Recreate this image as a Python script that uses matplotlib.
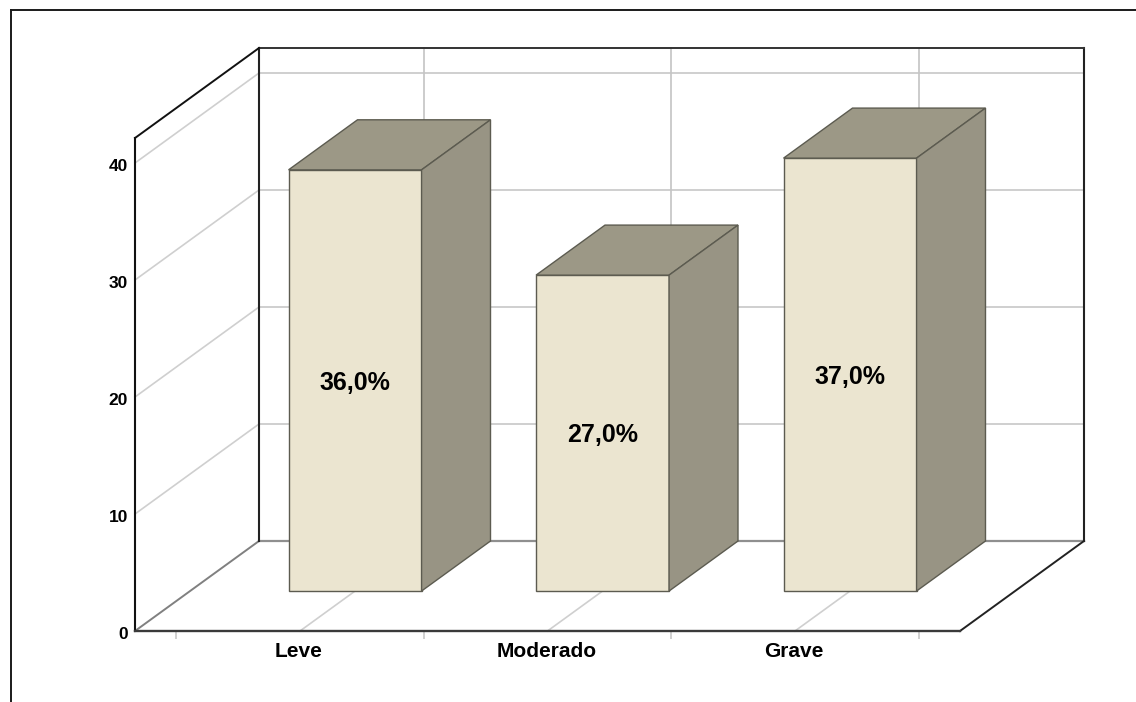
import matplotlib
matplotlib.use("Agg")
import matplotlib.pyplot as plt
from matplotlib.lines import Line2D
from matplotlib.transforms import ScaledTranslation

categories = ["Leve", "Moderado", "Grave"]
percentages = [36.0, 27.0, 37.0]
value_ticks = [0, 10, 20, 30, 40]

W, H = 1136, 702
plt.rcParams['font.family'] = ['Liberation Sans', 'DejaVu Sans']
fig = plt.figure(figsize=(W / 100, H / 100), dpi=100, facecolor='white')
ax = fig.add_axes([135 / W, (H - 631) / H, 825 / W, 493 / H])
ax.set_xlim(-0.6667, 2.6667)
ax.set_ylim(0, 493 / 11.7)
ax.patch.set_alpha(0)

DX = 124 / 247.5   # depth of the box, x units
DY = 90 / 11.7     # depth of the box, value units
NEAR = 0.444       # depth where the bars start
HALF = 133 / 2 / 247.5
ymax = ax.get_ylim()[1]
x0, x1 = ax.get_xlim()


def p(x, y, d):
    return x + DX * d, y + DY * d


def seg(a, b, **kw):
    ax.plot([a[0], b[0]], [a[1], b[1]], clip_on=False, solid_capstyle='projecting', **kw)


GRID = '#cfcfcf'
# grid on back wall and left wall
for v in value_ticks[1:]:
    seg(p(x0, v, 1), p(x1, v, 1), color=GRID, lw=1.4, zorder=1)
    seg(p(x0, v, 0), p(x0, v, 1), color=GRID, lw=1.2, zorder=1)
# category lines on back wall and floor
for i in range(len(categories)):
    seg(p(i, 0, 1), p(i, ymax, 1), color='#c4c4c4', lw=1.2, zorder=1)
    seg(p(i, 0, 0), p(i, 0, 1), color=GRID, lw=1.2, zorder=1)

# box outline
seg(p(x0, 0, 1), p(x1, 0, 1), color='#8f8f8f', lw=1.6, zorder=2)
seg(p(x0, 0, 0), p(x0, 0, 1), color='#808080', lw=1.4, zorder=2)
seg(p(x1, 0, 0), p(x1, 0, 1), color='#222222', lw=1.4, zorder=2)
seg(p(x0, 0, 1), p(x0, ymax, 1), color='#222222', lw=1.5, zorder=2)
seg(p(x1, 0, 1), p(x1, ymax, 1), color='#222222', lw=1.5, zorder=2)
seg(p(x0, ymax, 1), p(x1, ymax, 1), color='#333333', lw=1.4, zorder=2)
seg(p(x0, ymax, 0), p(x0, ymax, 1), color='#111111', lw=1.4, zorder=2)

# bars
FRONT, TOP, SIDE, EDGE = '#ebe5d0', '#9c9886', '#989484', '#5c5b50'
for i, val in enumerate(percentages):
    l, r = i - HALF, i + HALF
    faces = [
        ([p(l, 0, NEAR), p(r, 0, NEAR), p(r, val, NEAR), p(l, val, NEAR)], FRONT),
        ([p(l, val, NEAR), p(r, val, NEAR), p(r, val, 1), p(l, val, 1)], TOP),
        ([p(r, 0, NEAR), p(r, 0, 1), p(r, val, 1), p(r, val, NEAR)], SIDE),
    ]
    for pts, col in faces:
        xs, ys = zip(*pts)
        ax.fill(xs, ys, facecolor=col, edgecolor=EDGE, lw=1.0, zorder=3, clip_on=False)
    cx, cy = p(i, val / 2, NEAR)
    ax.annotate(f"{val:.1f}%".replace('.', ','), (cx, cy), xytext=(0, -1.5),
                textcoords='offset points', ha='center', va='center',
                fontsize=18, fontweight='bold', color='black', zorder=4)

# axes
for s in ('top', 'right'):
    ax.spines[s].set_visible(False)
ax.spines['left'].set_color('#111111')
ax.spines['left'].set_linewidth(1.5)
ax.spines['bottom'].set_color('#3a3a3a')
ax.spines['bottom'].set_linewidth(1.7)
ax.set_yticks(value_ticks)
ax.set_yticklabels([str(v) for v in value_ticks], fontsize=12.5, fontweight='bold')
ax.tick_params(axis='y', length=0, pad=5)
down = ScaledTranslation(0, -1.5 / 72 * 100 / 100, fig.dpi_scale_trans)
for lab in ax.get_yticklabels():
    lab.set_transform(lab.get_transform() + down)
ax.set_xticks(range(len(categories)))
ax.set_xticklabels(categories, fontsize=15, fontweight='bold')
ax.tick_params(axis='x', length=0, pad=8)
left = ScaledTranslation(-1 / 100, 0, fig.dpi_scale_trans)
for lab in ax.get_xticklabels():
    lab.set_transform(lab.get_transform() + left)
ax.set_xticks([i - 0.5 for i in range(len(categories) + 1)], minor=True)
ax.tick_params(axis='x', which='minor', length=6, color='#c8c8c8', width=1.2)

# image frame
for (xa, ya, xb, yb) in [(10.5, 10, W, 10), (10.5, 10, 10.5, H)]:
    fig.add_artist(Line2D([xa / W, xb / W], [1 - ya / H, 1 - yb / H],
                          color='#1a1a1a', lw=1.4, transform=fig.transFigure))

fig.savefig('out.png', dpi=100)
